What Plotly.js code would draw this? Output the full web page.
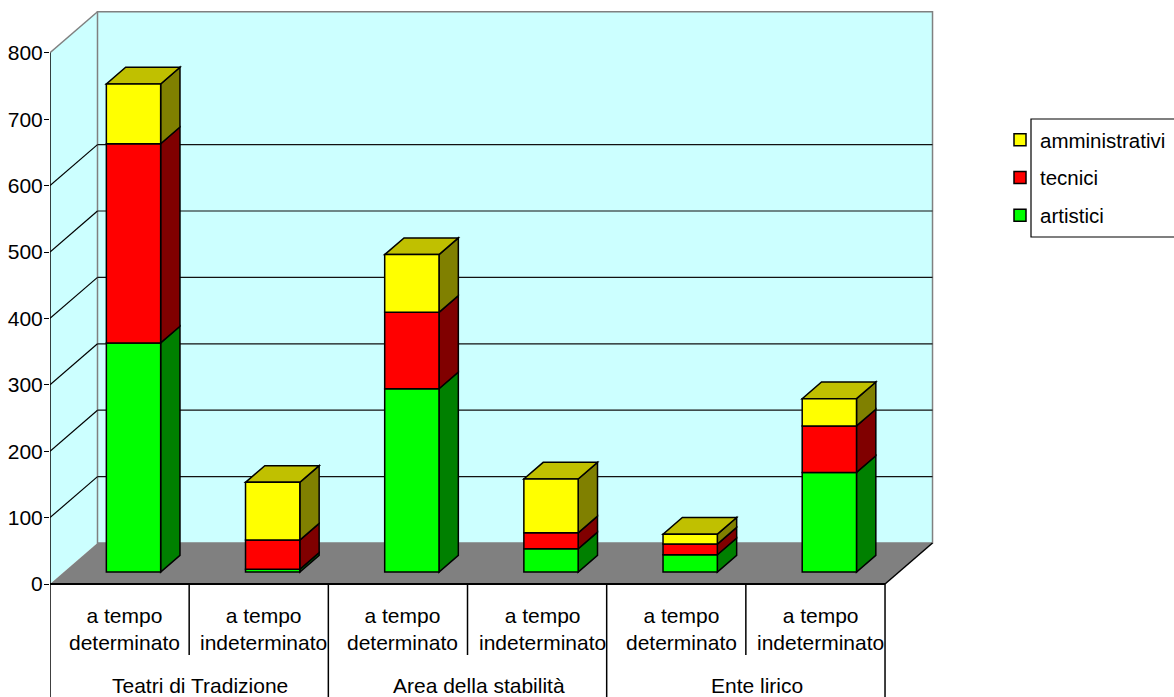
<!DOCTYPE html>
<html>
<head>
<meta charset="utf-8">
<script src="https://cdn.plot.ly/plotly-3.0.1.min.js"></script>
<style>
html,body{margin:0;padding:0;background:#ffffff;}
#chart{width:1174px;height:697px;}
</style>
</head>
<body>
<div id="chart"></div>
<script>
// ---------------- DATA ----------------
const groups = ["Teatri di Tradizione", "Area della stabilità", "Ente lirico"];
const categories = ["a tempo determinato", "a tempo indeterminato",
                    "a tempo determinato", "a tempo indeterminato",
                    "a tempo determinato", "a tempo indeterminato"];
const categoryGroup = [0, 0, 1, 1, 2, 2];
const seriesNames = ["artistici", "tecnici", "amministrativi"];
const artistici      = [345,  4, 276, 35, 26, 150];
const tecnici        = [300, 44, 115, 24, 16,  70];
const amministrativi = [ 90, 87,  87, 81, 15,  41];
const yTicks = [0, 100, 200, 300, 400, 500, 600, 700, 800];
const wallGrid = [100, 200, 300, 400, 500, 600];
const yMax = 800;

// ---------------- STYLE / GEOMETRY ----------------
const frontColors = ["#00FF00", "#FF0000", "#FFFF00"];
const sideColors  = ["#008000", "#800000", "#808000"];
const topColors   = ["#00C000", "#C00000", "#C0C000"];
const W = 1174, H = 697;
const LEFT = 50;            // pixel of the value axis
const PXU = 139.17;         // pixels per category slot
const PYV = 0.664;          // pixels per value unit
const Y0PX = 584;           // pixel row of value 0 (front plane)
const DX = 47.5 / PXU;      // full depth, x offset (category units)
const DY = 41 / PYV;        // full depth, y offset (value units)
const F0 = 0.293, F1 = 0.70;// bar depth extent (fraction of full depth)
const BW = 54.3 / PXU;      // bar width
const FONT = "Liberation Sans, Arial, sans-serif";
const FS = 21;
const pyToVal = p => (Y0PX - p) / PYV;
const pxToPaper = p => (p - LEFT) / (W - LEFT);
const nCat = categories.length;

const series = [artistici, tecnici, amministrativi];
const shapes = [];
const traces = [];

// walls & floor
shapes.push({type:"path", xref:"x", yref:"y", layer:"below",
  path:`M0,0 L0,${yMax} L${DX},${yMax+DY} L${DX},${DY} Z`,
  fillcolor:"#CCFFFF", line:{width:0}});
shapes.push({type:"rect", xref:"x", yref:"y", layer:"below",
  x0:DX, x1:nCat+DX, y0:DY, y1:yMax+DY,
  fillcolor:"#CCFFFF", line:{color:"#808080", width:1.5}});
shapes.push({type:"path", xref:"x", yref:"y", layer:"below",
  path:`M0,0 L${nCat},0 L${nCat+DX},${DY} L${DX},${DY} Z`,
  fillcolor:"#808080", line:{width:0}});
shapes.push({type:"line", xref:"x", yref:"y", layer:"below",
  x0:0, y0:yMax, x1:DX, y1:yMax+DY, line:{color:"#808080", width:1.5}});
wallGrid.forEach(v => {
  shapes.push({type:"line", xref:"x", yref:"y", layer:"below",
    x0:0, y0:v, x1:DX, y1:v+DY, line:{color:"#000000", width:1.2}});
  shapes.push({type:"line", xref:"x", yref:"y", layer:"below",
    x0:DX, y0:v+DY, x1:nCat+DX, y1:v+DY, line:{color:"#111111", width:1.2}});
});
// floor front edge and right edge
shapes.push({type:"line", xref:"x", yref:"y", layer:"below",
  x0:0, y0:0, x1:nCat, y1:0, line:{color:"#000000", width:2}});
shapes.push({type:"line", xref:"x", yref:"y", layer:"below",
  x0:nCat, y0:0, x1:nCat+DX, y1:DY, line:{color:"#000000", width:1.5}});
// value axis line
shapes.push({type:"line", xref:"x", yref:"y", layer:"below",
  x0:0, y0:pyToVal(H), x1:0, y1:yMax, line:{color:"#000000", width:1.5}});
// category table dividers
for (let k = 1; k <= nCat; k++) {
  const major = (k === nCat) || (categoryGroup[k] !== categoryGroup[k-1]);
  shapes.push({type:"line", xref:"x", yref:"y", layer:"below",
    x0:k, y0:0, x1:k, y1: major ? pyToVal(H) : pyToVal(655),
    line:{color:"#000000", width:1.5}});
}

// bars: front faces as bar traces, side/top faces as shapes in data coords
const cum = new Array(nCat).fill(0);
const xs = categories.map((c, i) => i + 0.5 + F0 * DX);
series.forEach((vals, s) => {
  const bases = vals.map((v, i) => cum[i] + F0 * DY);
  traces.push({
    type:"bar", name:seriesNames[s], x:xs, y:vals, base:bases, width:BW,
    marker:{color:frontColors[s], line:{color:"#000000", width:1.5}},
    legendgroup:seriesNames[s], legendrank:series.length - s, hoverinfo:"y+name"
  });
  vals.forEach((v, i) => {
    const lo = cum[i], hi = cum[i] + v;
    const r = xs[i] + BW/2, l = xs[i] - BW/2;
    const d = (F1 - F0) * DX;
    shapes.push({type:"path", xref:"x", yref:"y", layer:"below",
      path:`M${r},${lo+F0*DY} L${r},${hi+F0*DY} L${r+d},${hi+F1*DY} L${r+d},${lo+F1*DY} Z`,
      fillcolor:sideColors[s], line:{color:"#000000", width:1.5}});
    if (s === series.length - 1) {
      shapes.push({type:"path", xref:"x", yref:"y", layer:"below",
        path:`M${l},${hi+F0*DY} L${r},${hi+F0*DY} L${r+d},${hi+F1*DY} L${l+d},${hi+F1*DY} Z`,
        fillcolor:topColors[s], line:{color:"#000000", width:1.5}});
    }
  });
  vals.forEach((v, i) => { cum[i] += v; });
});

// legend frame (its right side runs past the page edge)
shapes.push({type:"path", xref:"paper", yref:"paper",
  path:`M${pxToPaper(1240)},${1 - 119/H} L${pxToPaper(1031)},${1 - 119/H} L${pxToPaper(1031)},${1 - 237/H} L${pxToPaper(1240)},${1 - 237/H}`,
  line:{color:"#000000", width:1.2}, fillcolor:"rgba(0,0,0,0)"});

// category labels
const annotations = [];
categories.forEach((c, i) => {
  annotations.push({xref:"x", yref:"y", x:i + 0.5, y:pyToVal(628.5), xshift:5,
    text:c.replace("a tempo ", "a tempo<br>"), showarrow:false,
    xanchor:"center", yanchor:"middle", align:"center",
    font:{family:FONT, size:FS, color:"#000000"}});
});
groups.forEach((g, gi) => {
  const idx = categoryGroup.map((cg, i) => cg === gi ? i : -1).filter(i => i >= 0);
  const center = (Math.min(...idx) + Math.max(...idx) + 1) / 2;
  annotations.push({xref:"x", yref:"y", x:center, y:pyToVal(685), xshift:11,
    text:g, showarrow:false, xanchor:"center", yanchor:"middle",
    font:{family:FONT, size:FS, color:"#000000"}});
});

const layout = {
  width:W, height:H,
  margin:{l:LEFT, r:0, t:0, b:0, pad:0, autoexpand:false},
  paper_bgcolor:"#ffffff", plot_bgcolor:"#ffffff",
  barmode:"overlay",
  showlegend:true,
  legend:{x:pxToPaper(1000), xanchor:"left", y:1 - 120/H, yanchor:"top",
    traceorder:"grouped", tracegroupgap:8,
    bgcolor:"rgba(0,0,0,0)", borderwidth:0,
    font:{family:FONT, size:20.5, color:"#000000"}},
  xaxis:{range:[0, (W - LEFT)/PXU], visible:false, fixedrange:true},
  yaxis:{range:[pyToVal(H), pyToVal(0)], tickvals:yTicks, ticktext:yTicks.map(String),
    ticks:"outside", ticklen:5, tickcolor:"#000000", tickwidth:1, ticklabelstandoff:-3,
    showgrid:false, zeroline:false, showline:false, fixedrange:true,
    tickfont:{family:FONT, size:FS, color:"#000000"}},
  shapes:shapes,
  annotations:annotations,
  font:{family:FONT, size:FS, color:"#000000"}
};

Plotly.newPlot("chart", traces, layout, {displayModeBar:false, staticPlot:true});
</script>
</body>
</html>
